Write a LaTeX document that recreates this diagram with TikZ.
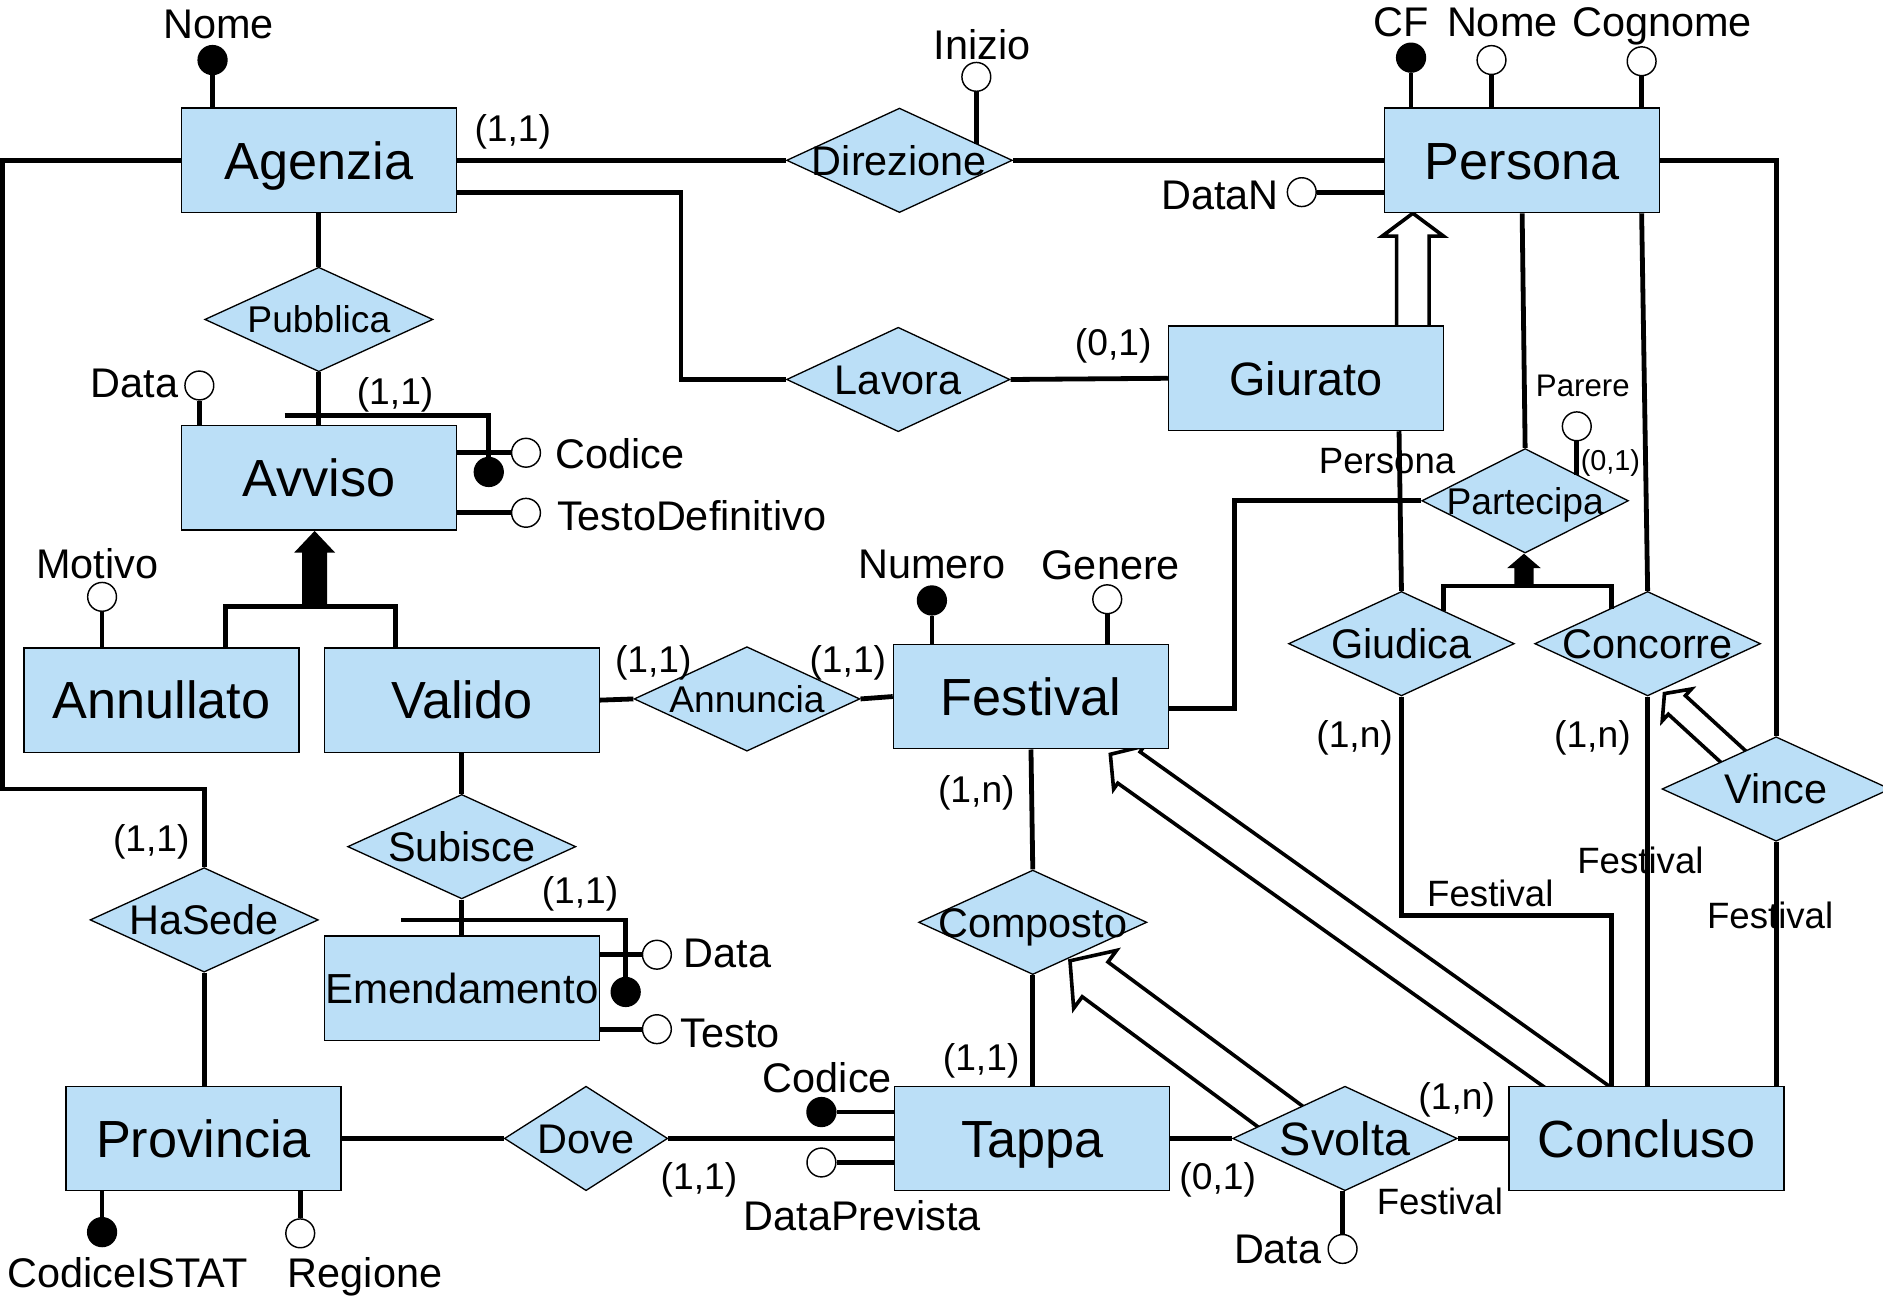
\documentclass[tikz,border=0pt]{standalone}
\usepackage{fontspec}
\setmainfont{Liberation Sans}
\usetikzlibrary{shapes.geometric,calc,backgrounds}
\definecolor{erblue}{RGB}{187,223,247}
\newcommand\erfs[1]{\fontsize{#1}{#1}\selectfont}
\newcommand\dtext[1]{\makebox[0pt]{\smash{\raisebox{-0.36em}{#1}}}}
\newcommand\isahollow[5]{%
  \path ($(#2)!#5!(#1)$) coordinate (isaH);
  \filldraw[isaline] ($(#1)!#3!90:(#2)$) -- ($(isaH)!#3!90:(#2)$) -- ($(isaH)!#4!90:(#2)$) -- (#2) -- ($(isaH)!#4!-90:(#2)$) -- ($(isaH)!#3!-90:(#2)$) -- ($(#1)!#3!-90:(#2)$);
}
\newcommand\isafilled[5]{%
  \path ($(#2)!#5!(#1)$) coordinate (isaH);
  \fill ($(#1)!#3!90:(#2)$) -- ($(isaH)!#3!90:(#2)$) -- ($(isaH)!#4!90:(#2)$) -- (#2) -- ($(isaH)!#4!-90:(#2)$) -- ($(isaH)!#3!-90:(#2)$) -- ($(#1)!#3!-90:(#2)$) -- cycle;
}
\begin{document}
\begin{tikzpicture}[x=1pt,y=-1pt,
  ent/.style={rectangle,draw=black,line width=1.2pt,fill=erblue,minimum width=229pt,minimum height=87pt,inner sep=0pt,text height=31.3pt,text depth=0pt,font=\erfs{43.5}},
  rel/.style={diamond,draw=black,line width=1.1pt,fill=erblue,minimum width=188pt,minimum height=87pt,inner sep=0pt,font=\erfs{34.5}},
  conn/.style={line width=4pt},
  lbl/.style={inner sep=0pt,text height=24.8pt,text depth=0pt,font=\erfs{34.5}},
  card/.style={inner sep=0pt,text height=22.3pt,text depth=0pt,font=\erfs{31}},
  role/.style={inner sep=0pt,text height=22pt,text depth=0pt,font=\erfs{30.5}},
  att/.style={circle,draw=black,line width=1.2pt,fill=white,minimum size=24pt,inner sep=0pt},
  key/.style={att,fill=black},
  isaline/.style={line width=3pt,draw=black,fill=white,line join=miter,miter limit=4},
]
\useasboundingbox (0,0) rectangle (1568,1080);

% entities
\node[ent] (agenzia) at (265.5,133.5) {Agenzia};
\node[ent] (persona) at (1267.5,133.5) {Persona};
\node[ent] (avviso) at (265.5,398) {Avviso};
\node[ent,font=\erfs{39},text height=28pt] (giurato) at (1087.5,315) {Giurato};
\node[ent] (annullato) at (134.5,583) {Annullato};
\node[ent] (valido) at (384.5,583) {Valido};
\node[ent] (festival) at (858.5,580) {Festival};
\node[ent,font=\erfs{35},text height=25pt] (emendamento) at (384.5,823) {Emendamento};
\node[ent] (provincia) at (169.5,948) {Provincia};
\node[ent] (tappa) at (859.5,948) {Tappa};
\node[ent] (concluso) at (1371,948) {Concluso};

% relationships
\node[rel] (direzione) at (749,133.5) {\dtext{Direzione}};
\node[rel,minimum width=190pt,font=\erfs{31}] (pubblica) at (265.5,266) {\dtext{Pubblica}};
\node[rel,minimum width=186pt] (lavora) at (748,316) {\dtext{Lavora}};
\node[rel,minimum width=172pt,font=\erfs{31}] (partecipa) at (1270,417) {\dtext{Partecipa}};
\node[rel] (giudica) at (1167,536) {\dtext{Giudica}};
\node[rel] (concorre) at (1372,536) {\dtext{Concorre}};
\node[rel,minimum width=190pt] (vince) at (1479,657) {\dtext{Vince}};
\node[rel,font=\erfs{31}] (annuncia) at (622,582) {\dtext{Annuncia}};
\node[rel,minimum width=190pt] (subisce) at (384.5,705) {\dtext{Subisce}};
\node[rel,minimum width=190pt] (hasede) at (170,766) {\dtext{HaSede}};
\node[rel,minimum width=190pt] (composto) at (860,768) {\dtext{Composto}};
\node[rel,minimum width=136pt] (dove) at (488,948) {\dtext{Dove}};
\node[rel,minimum width=187pt,font=\erfs{39}] (svolta) at (1120,948) {\dtext{Svolta}};

% attribute circles
\node[key] (agnome) at (177,50) {};
\node[att] (inizio) at (813,64) {};
\node[key] (cf) at (1175,48) {};
\node[att] (pnome) at (1242,50) {};
\node[att] (cognome) at (1367,51) {};
\node[att] (datan) at (1084,160) {};
\node[att] (avdata) at (166,321) {};
\node[att] (avcodice) at (438,377) {};
\node[key] (avid) at (407,393) {};
\node[att] (avtesto) at (438,427) {};
\node[att] (motivo) at (85,497) {};
\node[key] (numero) at (776,500) {};
\node[att] (genere) at (922,499) {};
\node[att] (parere) at (1313,355) {};
\node[att] (emdata) at (547,795) {};
\node[key] (emid) at (521,826) {};
\node[att] (emtesto) at (547,857) {};
\node[key] (tcodice) at (684,926) {};
\node[att] (tdata) at (684,968) {};
\node[att] (sdata) at (1118,1040) {};
\node[key] (istat) at (85,1026) {};
\node[att] (regione) at (250,1027) {};

% labels
\node[lbl] (l-nome) at (182,20) {Nome};
\node[card] (c-ag) at (427,107) {(1,1)};
\node[lbl] (l-inizio) at (818,37) {Inizio};
\node[lbl] (l-cf) at (1167,18) {CF};
\node[lbl] (l-pnome) at (1251,18) {Nome};
\node[lbl] (l-cognome) at (1384,18) {Cognome};
\node[lbl] (l-datan) at (1016,162) {DataN};
\node[lbl] (l-avdata) at (112,319) {Data};
\node[card] (c-av) at (329,326) {(1,1)};
\node[lbl] (l-codice) at (516,378) {Codice};
\node[lbl] (l-testodef) at (576,429) {TestoDefinitivo};
\node[lbl] (l-motivo) at (81,469) {Motivo};
\node[card] (c-giu) at (927,285) {(0,1)};
\node[inner sep=0pt,text height=19pt,text depth=0pt,font=\erfs{26}] (l-parere) at (1318,321) {Parere};
\node[inner sep=0pt,text height=17pt,text depth=0pt,font=\erfs{24}] (c-parere) at (1341,383) {(0,1)};
\node[role] (l-persona) at (1155,383) {Persona};
\node[lbl] (l-numero) at (776,469) {Numero};
\node[lbl] (l-genere) at (925,470) {Genere};
\node[card] (c-va) at (544,549) {(1,1)};
\node[card] (c-fe) at (706,549) {(1,1)};
\node[card] (c-gi) at (1128,611) {(1,n)};
\node[card] (c-co) at (1326,611) {(1,n)};
\node[card] (c-fc) at (813,657) {(1,n)};
\node[role] (l-fest1) at (1366,716) {Festival};
\node[role] (l-fest2) at (1241,744) {Festival};
\node[role] (l-fest3) at (1474,762) {Festival};
\node[card] (c-hs) at (126,698) {(1,1)};
\node[card] (c-em) at (483,741) {(1,1)};
\node[lbl] (l-emdata) at (606,793) {Data};
\node[lbl] (l-emtesto) at (608,860) {Testo};
\node[card] (c-ta) at (817,880) {(1,1)};
\node[lbl] (l-tcodice) at (689,897) {Codice};
\node[card] (c-sc) at (1213,913) {(1,n)};
\node[card] (c-dv) at (582,979) {(1,1)};
\node[card] (c-st) at (1014,979) {(0,1)};
\node[role] (l-fest4) at (1199,1000) {Festival};
\node[lbl] (l-dataprev) at (718,1012) {DataPrevista};
\node[lbl] (l-sdata) at (1064,1040) {Data};
\node[lbl] (l-istat) at (106,1060) {CodiceISTAT};
\node[lbl] (l-regione) at (304,1060) {Regione};

% attribute connectors
\draw[conn] (agnome.south) -- (agnome |- agenzia.north);
\draw[conn] (inizio.south) -- ++(0,43);
\draw[conn] (cf.south) -- (cf |- persona.north);
\draw[conn] (pnome.south) -- (pnome |- persona.north);
\draw[conn] (cognome.south) -- (cognome |- persona.north);
\draw[conn] (datan.east) -- (datan -| persona.west);
\draw[conn] (avdata.south) -- (avdata |- avviso.north);
\draw[conn] (avcodice.west) -- (avcodice -| avviso.east);
\draw[conn] (avtesto.west) -- (avtesto -| avviso.east);
\coordinate (avbar) at (237,346);
\draw[conn] (avbar) -- (avbar -| avid) -- (avid.north);
\draw[conn] (motivo.south) -- (motivo |- annullato.north);
\draw[conn] (numero.south) -- (numero |- festival.north);
\draw[conn] (genere.south) -- (genere |- festival.north);
\draw[conn] (parere.south) -- ++(0,28);
\coordinate (embar) at (334,766);
\draw[conn] (embar) -- (embar -| emid) -- (emid.north);
\draw[conn] (emdata.west) -- (emdata -| emendamento.east);
\draw[conn] (emtesto.west) -- (emtesto -| emendamento.east);
\draw[conn] (tcodice.east) -- (tcodice -| tappa.west);
\draw[conn] (tdata.east) -- (tdata -| tappa.west);
\draw[conn] (sdata.north) -- (sdata |- svolta.south);
\draw[conn] (istat.north) -- (istat |- provincia.south);
\draw[conn] (regione.north) -- (regione |- provincia.south);

% relationship connectors
\draw[conn] (agenzia.east) -- (direzione.west);
\draw[conn] (direzione.east) -- (persona.west);
\draw[conn] ([yshift=-26.5pt]agenzia.east) -| (567,316) -- (lavora.west);
\draw[conn] (lavora.east) -- (giurato.west);
\draw[conn] (agenzia.south) -- (pubblica.north);
\draw[conn] (pubblica.south) -- (avviso.north);
\coordinate (gA) at (262,505);
\draw[conn] ([xshift=53.5pt]annullato.north) |- (gA) -| ([xshift=-55.5pt]valido.north);
\draw[conn] (valido.east) -- (annuncia.west);
\draw[conn] (annuncia.east) -- (festival.west);
\draw[conn] ([yshift=-10pt]festival.east) -| (1028,417) -- (partecipa.west);
\draw[conn] (persona.south) -- (partecipa.north);
\draw[conn] ([xshift=77.5pt]giurato.south) -- (giudica.north);
\draw[conn] (giudica.south) |- (1342,762) -- ([xshift=-29pt]concluso.north);
\coordinate (gP) at (1269,488);
\draw[conn] (1202,509) |- (gP) -| (1342,507);
\draw[conn] ([xshift=99.5pt]persona.south) -- (concorre.north);
\draw[conn] (concorre.south) -- (concorre.south |- concluso.north);
\draw[conn] (persona.east) -| (vince.north);
\draw[conn] (vince.south) -- (vince.south |- concluso.north);
\draw[conn] (agenzia.west) -| (2,657) -| (hasede.north);
\draw[conn] (hasede.south) -- (hasede.south |- provincia.north);
\draw[conn] (provincia.east) -- (dove.west);
\draw[conn] (dove.east) -- (tappa.west);
\draw[conn] (festival.south) -- (composto.north);
\draw[conn] (composto.south) -- (composto.south |- tappa.north);
\draw[conn] (valido.south) -- (subisce.north);
\draw[conn] (subisce.south) -- (emendamento.north);
\draw[conn] (tappa.east) -- (svolta.west);
\draw[conn] (svolta.east) -- (concluso.west);

% generalisations (hollow arrows behind the shapes)
\begin{pgfonlayer}{background}
\coordinate (i1s) at ([xshift=89pt,yshift=-6pt]giurato.north);
\coordinate (i1t) at ([xshift=-91pt]persona.south);
\isahollow{i1s}{i1t}{13.5pt}{25.5pt}{19pt}
\coordinate (i2s) at ([xshift=-39pt,yshift=-14.5pt]concluso.north);
\coordinate (i2t) at ([xshift=-49pt,yshift=-4pt]festival.south east);
\isahollow{i2s}{i2t}{16pt}{22pt}{19pt}
\coordinate (i3s) at ([xshift=-40pt,yshift=8pt]svolta.center);
\coordinate (i3t) at ([xshift=31pt,yshift=12pt]composto.south);
\isahollow{i3s}{i3t}{18pt}{30pt}{26pt}
\coordinate (i4s) at ([xshift=-27pt,yshift=19pt]vince.center);
\coordinate (i4t) at ([xshift=14pt,yshift=2.5pt]concorre.south);
\isahollow{i4s}{i4t}{10.5pt}{18pt}{14pt}
\end{pgfonlayer}
\coordinate (f1t) at ([xshift=-3.5pt]avviso.south);
\isafilled{gA}{f1t}{10.5pt}{17pt}{18pt}
\coordinate (f2t) at ([xshift=-1pt]partecipa.south);
\isafilled{gP}{f2t}{8pt}{14pt}{12pt}
\end{tikzpicture}
\end{document}
